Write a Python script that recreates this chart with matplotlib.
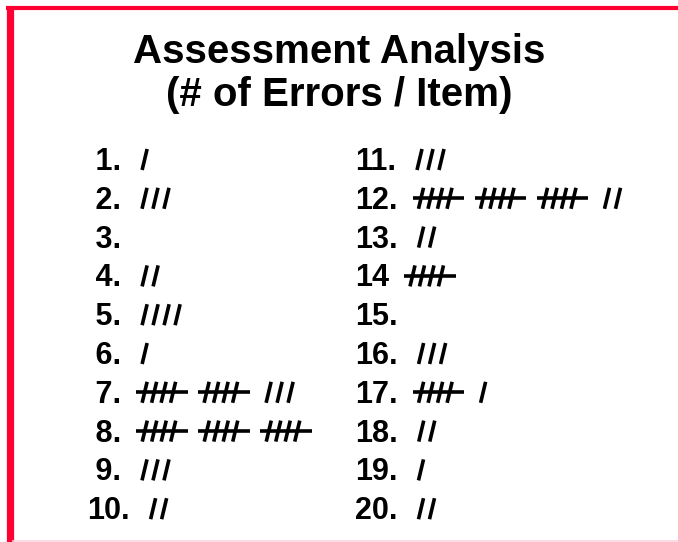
import matplotlib
matplotlib.use("Agg")
import matplotlib.pyplot as plt

# item labels and number of errors per item
left_labels = [" 1.", " 2.", " 3.", " 4.", " 5.", " 6.", " 7.", " 8.", " 9.", "10."]
left_errors = [1, 3, 0, 2, 4, 1, 13, 15, 3, 2]
right_labels = ["11.", "12.", "13.", "14", "15.", "16.", "17.", "18.", "19.", "20."]
right_errors = [3, 17, 2, 5, 0, 3, 6, 2, 1, 2]

title_lines = ["Assessment Analysis", "(# of Errors / Item)"]

W, H = 678, 542
fig = plt.figure(figsize=(W / 100, H / 100), dpi=100)
ax = fig.add_axes([0, 0, 1, 1])
ax.set_xlim(0, W)
ax.set_ylim(H, 0)
ax.axis("off")

font = "Liberation Sans"
red = "#ff0033"

# slide frame
ax.plot([9.5, 9.5], [6, H], color=red, lw=5.2, solid_capstyle="butt")
ax.plot([6, W], [8, 8], color=red, lw=3.0, solid_capstyle="butt")
ax.plot([13, W], [540.5, 540.5], color="#ffd6e0", lw=1.2)

# title
ax.text(339, 63, title_lines[0], fontsize=29, fontweight="bold", family=font,
        ha="center", va="baseline")
ax.text(339, 106, title_lines[1], fontsize=29, fontweight="bold", family=font,
        ha="center", va="baseline")

fig.canvas.draw()
renderer = fig.canvas.get_renderer()
inv = ax.transData.inverted()


def draw_tally(x, base, n):
    h, slant, lw = 21, 5, 2.6
    step, pitch = 9.5, 62
    while n >= 5:
        for k in range(4):
            x0 = x + k * step
            ax.plot([x0, x0 + slant], [base, base - h], color="black", lw=lw,
                    solid_capstyle="butt")
        ax.plot([x - 6, x + 3 * step + slant + 12], [base - h / 2] * 2,
                color="black", lw=lw, solid_capstyle="butt")
        x += pitch
        n -= 5
    for k in range(n):
        x0 = x + k * 11
        ax.plot([x0, x0 + slant], [base, base - h], color="black", lw=lw,
                solid_capstyle="butt")


def draw_column(x, labels, errors):
    for i, (lab, n) in enumerate(zip(labels, errors)):
        base = 170 + 38.8 * i
        t = ax.text(x, base, lab, fontsize=22, fontweight="bold", family=font,
                    ha="left", va="baseline")
        bb = t.get_window_extent(renderer)
        right = inv.transform((bb.x1, bb.y1))[0]
        draw_tally(right + 21, base, n)


draw_column(87, left_labels, left_errors)
draw_column(355, right_labels, right_errors)

fig.savefig("out.png", dpi=100, facecolor="white")
